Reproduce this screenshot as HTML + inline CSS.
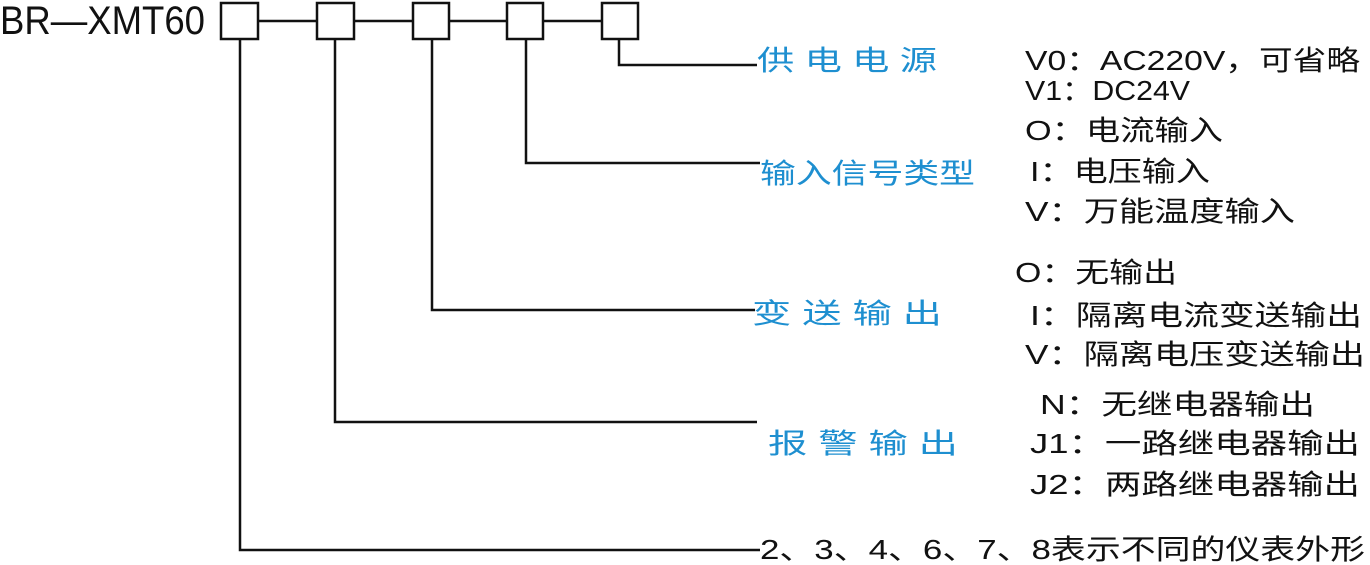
<!DOCTYPE html>
<html><head><meta charset="utf-8"><style>
html,body{margin:0;padding:0;background:#fff;}
svg{display:block;}
text{font-family:"Liberation Sans","Noto Sans CJK SC",sans-serif;font-size:28px;}
.b{fill:#1e8fd0;}
.k{fill:#111;}
</style></head><body>
<svg width="1370" height="565" viewBox="0 0 1370 565" xmlns="http://www.w3.org/2000/svg">
<g fill="none" stroke="#111" stroke-width="2.5">
<rect x="221" y="3" width="37" height="36"/>
<rect x="317" y="3" width="37" height="36"/>
<rect x="413" y="3" width="36" height="36"/>
<rect x="507" y="3" width="36" height="36"/>
<rect x="602" y="3" width="36" height="36"/>
<line x1="258" y1="21" x2="317" y2="21"/>
<line x1="354" y1="21" x2="413" y2="21"/>
<line x1="449" y1="21" x2="507" y2="21"/>
<line x1="543" y1="21" x2="602" y2="21"/>
<polyline points="619,39 619,65 757,65"/>
<polyline points="526,39 526,163 760,163"/>
<polyline points="432,39 432,310 755,310"/>
<polyline points="335,39 335,422 757,422"/>
<polyline points="240,39 240,550 760,550"/>
</g>
<text class="k" x="0" y="34" style="font-size:40px" textLength="205" lengthAdjust="spacingAndGlyphs">BR—XMT60</text>
<text class="b" x="757" y="70" textLength="180" lengthAdjust="spacingAndGlyphs">供 电 电 源</text>
<text class="b" x="760" y="183" textLength="215" lengthAdjust="spacingAndGlyphs">输入信号类型</text>
<text class="b" x="752" y="323" textLength="190" lengthAdjust="spacingAndGlyphs">变 送 输 出</text>
<text class="b" x="768" y="453" textLength="190" lengthAdjust="spacingAndGlyphs">报 警 输 出</text>
<text class="k" x="760" y="559" textLength="605" lengthAdjust="spacingAndGlyphs">2、3、4、6、7、8表示不同的仪表外形</text>
<text class="k" x="1025" y="70" textLength="335" lengthAdjust="spacingAndGlyphs">V0：AC220V，可省略</text>
<text class="k" x="1025" y="100" textLength="165" lengthAdjust="spacingAndGlyphs">V1：DC24V</text>
<text class="k" x="1025" y="140" textLength="198" lengthAdjust="spacingAndGlyphs">O：电流输入</text>
<text class="k" x="1030" y="181" textLength="180" lengthAdjust="spacingAndGlyphs">I：电压输入</text>
<text class="k" x="1025" y="221" textLength="270" lengthAdjust="spacingAndGlyphs">V：万能温度输入</text>
<text class="k" x="1015" y="282" textLength="162" lengthAdjust="spacingAndGlyphs">O：无输出</text>
<text class="k" x="1030" y="325" textLength="332" lengthAdjust="spacingAndGlyphs">I：隔离电流变送输出</text>
<text class="k" x="1025" y="364" textLength="340" lengthAdjust="spacingAndGlyphs">V：隔离电压变送输出</text>
<text class="k" x="1040" y="414" textLength="275" lengthAdjust="spacingAndGlyphs">N：无继电器输出</text>
<text class="k" x="1030" y="453" textLength="330" lengthAdjust="spacingAndGlyphs">J1：一路继电器输出</text>
<text class="k" x="1030" y="494" textLength="330" lengthAdjust="spacingAndGlyphs">J2：两路继电器输出</text>
</svg>
</body></html>
